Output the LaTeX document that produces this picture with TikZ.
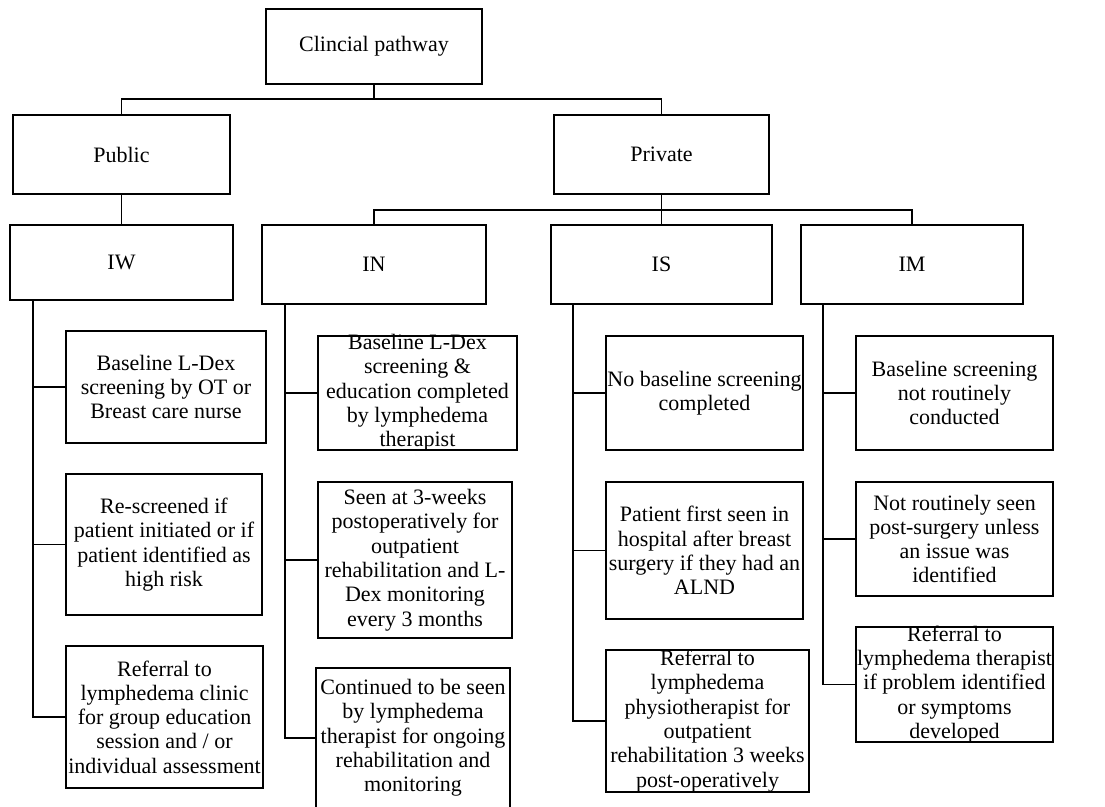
\documentclass[tikz,border=0pt]{standalone}
\usepackage{fontspec}
\setmainfont{Liberation Serif}
\usetikzlibrary{positioning}
\usetikzlibrary{calc}

\begin{document}
\begin{tikzpicture}[x=1pt,y=-1pt,
  blk/.style={draw, line width=1.9pt, inner sep=0pt},
  txt/.style={align=center, inner sep=0pt, font=\fontsize{22}{24.3}\selectfont},
  link/.style={line width=1.9pt}]
\useasboundingbox (0,0) rectangle (1105,806);

% top levels
\node [blk, minimum width=216, minimum height=75] (cp) at (374,46.5) {};
\node [txt] (cpt) at (cp) {Clincial pathway};
\node [blk, minimum width=217, minimum height=79] (pub) at (121.5,154.5) {};
\node [txt] (pubt) at (pub) {Public};
\node [blk, minimum width=215, minimum height=79] (priv) at (661.5,154.5) {};
\node [txt] (privt) at (priv) {Private};

\node [blk, minimum width=223, minimum height=75] (iw) at (121.5,262.5) {};
\node [txt] (iwt) at (iw) {IW};
\node [blk, minimum width=224, minimum height=79] (in) at (374,264.5) {};
\node [txt] (int) at (in) {IN};
\node [blk, minimum width=221, minimum height=79] (is) at (661.5,264.5) {};
\node [txt] (ist) at (is) {IS};
\node [blk, minimum width=222, minimum height=79] (im) at (912,264.5) {};
\node [txt] (imt) at (im) {IM};

% IW
\node [blk, minimum width=200, minimum height=112] (iw1) at (166,387) {};
\node [txt] (iw1t) at (iw1) {Baseline L-Dex\\screening by OT or\\Breast care nurse};
\node [blk, minimum width=196, minimum height=141] (iw2) at (164,544.5) {};
\node [txt] (iw2t) at (iw2) {Re-screened if\\patient initiated or if\\patient identified as\\high risk};
\node [blk, minimum width=197, minimum height=142] (iw3) at (164.5,717) {};
\node [txt] (iw3t) at (iw3) {Referral to\\lymphedema clinic\\for group education\\session and / or\\individual assessment};

% IN
\node [blk, minimum width=199, minimum height=114] (in1) at (417.5,393) {};
\node [txt] (in1t) at (in1) {Baseline L-Dex\\screening \&\\education completed\\by lymphedema\\therapist};
\node [blk, minimum width=194, minimum height=156] (in2) at (415,560) {};
\node [txt] (in2t) at (in2) {Seen at 3-weeks\\postoperatively for\\outpatient\\rehabilitation and L-\\Dex monitoring\\every 3 months};
\node [blk, minimum width=194, minimum height=140] (in3) at (413,738) {};
\node [txt] (in3t) at (in3) {Continued to be seen\\by lymphedema\\therapist for ongoing\\rehabilitation and\\monitoring};

% IS
\node [blk, minimum width=197, minimum height=114] (is1) at (704.5,393) {};
\node [txt] (is1t) at (is1) {No baseline screening\\completed};
\node [blk, minimum width=197, minimum height=137] (is2) at (704.5,550.5) {};
\node [txt] (is2t) at (is2) {Patient first seen in\\hospital after breast\\surgery if they had an\\ALND};
\node [blk, minimum width=203, minimum height=142] (is3) at (707.5,721) {};
\node [txt] (is3t) at (is3) {Referral to\\lymphedema\\physiotherapist for\\outpatient\\rehabilitation 3 weeks\\post-operatively};

% IM
\node [blk, minimum width=197, minimum height=114] (im1) at (954.5,393) {};
\node [txt] (im1t) at (im1) {Baseline screening\\not routinely\\conducted};
\node [blk, minimum width=197, minimum height=114] (im2) at (954.5,539) {};
\node [txt] (im2t) at (im2) {Not routinely seen\\post-surgery unless\\an issue was\\identified};
\node [blk, minimum width=197, minimum height=115] (im3) at (954.5,684.5) {};
\node [txt] (im3t) at (im3) {Referral to\\lymphedema therapist\\if problem identified\\or symptoms\\developed};

% tree lines
\coordinate (bar1) at (374,99);
\coordinate (bar2) at (661.5,210);
\draw [link] (cp.south) -- (bar1);
\draw [link] (pub.north) |- (bar1) -| (priv.north);
\draw [link] (pub.south) -- (iw.north);
\draw [link] (priv.south) -- (is.north);
\draw [link] (in.north) |- (bar2) -| (im.north);

% trunks
\coordinate (iwk) at (33,300);
\coordinate (ink) at (285,304);
\coordinate (isk) at (573,304);
\coordinate (imk) at (823,304);
\draw [link] (iwk) |- (iw3.west);
\draw [link] (iw1.west) -- (iw1.west -| iwk);
\draw [link] (iw2.west) -- (iw2.west -| iwk);
\draw [link] (ink) |- (in3.west);
\draw [link] (in1.west) -- (in1.west -| ink);
\draw [link] (in2.west) -- (in2.west -| ink);
\draw [link] (isk) |- (is3.west);
\draw [link] (is1.west) -- (is1.west -| isk);
\draw [link] (is2.west) -- (is2.west -| isk);
\draw [link] (imk) |- (im3.west);
\draw [link] (im1.west) -- (im1.west -| imk);
\draw [link] (im2.west) -- (im2.west -| imk);
\end{tikzpicture}
\end{document}
